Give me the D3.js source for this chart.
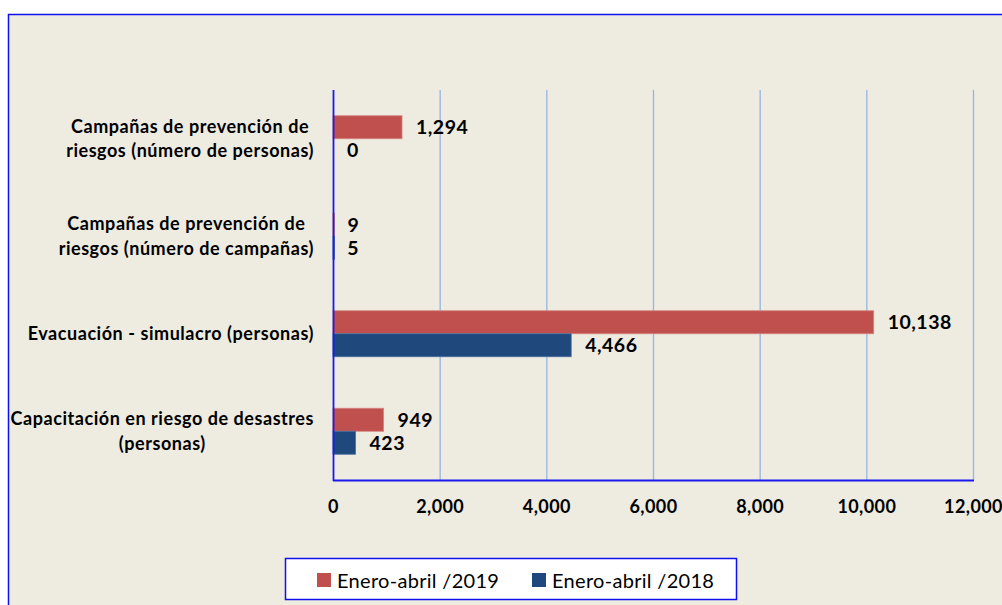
<!DOCTYPE html>
<html>
<head>
<meta charset="utf-8">
<script src="https://cdn.jsdelivr.net/npm/d3@7"></script>
<style>
    body { margin: 0; background: #ffffff; }
    svg { display: block; }
    text { font-family: Lato, "Open Sans", sans-serif; fill: #000; }
    .cat { font-size: 18px; font-weight: bold; letter-spacing: 0.55px; }
    .tick_lbl { font-size: 18px; font-weight: bold; letter-spacing: 0.4px; }
    .val { font-size: 19.5px; font-weight: bold; letter-spacing: 0.5px; }
    .legend { font-size: 20px; letter-spacing: 0.3px; }
</style>
</head>
<body>
<div id="Chart_1"></div>
<script>
// categories, top to bottom
let categories = [
    "Campañas de prevención de\nriesgos (número de personas)",
    "Campañas de prevención de\nriesgos (número de campañas)",
    "Evacuación - simulacro (personas)",
    "Capacitación en riesgo de desastres\n(personas)"
];
let series = ["Enero-abril /2019", "Enero-abril /2018"];
let values2019 = [1294, 9, 10138, 949];
let values2018 = [0, 5, 4466, 423];
let xTicks = [0, 2000, 4000, 6000, 8000, 10000, 12000];
let colors = ["#c0504d", "#1f497d"];
let strokes = ["#d6837f", "#4a6f9f"];

let width = 1002, height = 605;

let svg = d3.select("#Chart_1")
    .append("svg")
    .attr("width", width)
    .attr("height", height);

// chart area background + border (runs off the right and bottom)
svg.append("rect")
    .attr("x", 8.5)
    .attr("y", 14.5)
    .attr("width", 1010)
    .attr("height", 610)
    .attr("fill", "#eeebe1")
    .attr("stroke", "#1010ee")
    .attr("stroke-width", 1.5);

let plot = {left: 333, right: 973, top: 90, bottom: 480};

let xScale = d3.scaleLinear()
    .domain([0, 12000])
    .range([plot.left, plot.right]);

let yScale = d3.scaleBand()
    .domain(categories)
    .range([plot.top, plot.bottom]);

let ySub = d3.scaleBand()
    .domain(series)
    .range([0, yScale.bandwidth()])
    .paddingOuter(1.12);

// gridlines
svg.append("g")
    .selectAll("line")
    .data(xTicks.slice(1))
    .enter()
    .append("line")
    .attr("x1", d => xScale(d) + 0.5)
    .attr("x2", d => xScale(d) + 0.5)
    .attr("y1", plot.top)
    .attr("y2", plot.bottom)
    .attr("stroke", "#95b6e3")
    .attr("stroke-width", 1.3);

// bars
let data = categories.map((c, i) => [
    {cat: c, s: 0, v: values2019[i]},
    {cat: c, s: 1, v: values2018[i]}
]).flat();

svg.append("g")
    .selectAll("rect")
    .data(data)
    .enter()
    .append("rect")
    .attr("x", xScale(0))
    .attr("y", d => yScale(d.cat) + ySub(series[d.s]))
    .attr("width", d => Math.max(xScale(d.v) - xScale(0), d.v > 0 ? 1.5 : 0))
    .attr("height", ySub.bandwidth())
    .attr("fill", d => colors[d.s])
    .attr("stroke", d => d.v > 0 ? strokes[d.s] : "none")
    .attr("stroke-width", 0.8);

// value labels
svg.append("g")
    .selectAll("text")
    .data(data)
    .enter()
    .append("text")
    .attr("class", "val")
    .attr("x", d => xScale(d.v) + 14)
    .attr("y", d => yScale(d.cat) + ySub(series[d.s]) + ySub.bandwidth() / 2)
    .attr("dy", "0.36em")
    .text(d => d3.format(",")(d.v));

// axes lines
svg.append("line")
    .attr("x1", plot.left + 0.5).attr("x2", plot.left + 0.5)
    .attr("y1", plot.top).attr("y2", plot.bottom + 1)
    .attr("stroke", "#1a1aee").attr("stroke-width", 1.8);

svg.append("line")
    .attr("x1", plot.left).attr("x2", plot.right + 1)
    .attr("y1", plot.bottom + 0.5).attr("y2", plot.bottom + 0.5)
    .attr("stroke", "#1a1aee").attr("stroke-width", 1.8);

// x tick labels
let xAxis = d3.axisBottom(xScale)
    .tickValues(xTicks)
    .tickFormat(d3.format(","))
    .tickSize(0)
    .tickPadding(0);

let gx = svg.append("g")
    .attr("transform", "translate(0," + 513 + ")")
    .call(xAxis);
gx.select(".domain").remove();
gx.selectAll("text")
    .attr("class", "tick_lbl")
    .attr("y", 0)
    .attr("dy", "0");
gx.attr("font-family", null).attr("font-size", null);

// category labels, centred block whose widest line ends at x=314
categories.forEach(c => {
    let lines = c.split("\n");
    let cy = yScale(c) + yScale.bandwidth() / 2;
    let t = svg.append("text")
        .attr("class", "cat")
        .attr("text-anchor", "middle");
    lines.forEach((l, k) => {
        t.append("tspan")
            .attr("y", cy + (k - (lines.length - 1) / 2) * 24.5)
            .attr("dy", "0.36em")
            .text(l);
    });
    let w = d3.max(t.selectAll("tspan").nodes(), n => n.getComputedTextLength());
    t.selectAll("tspan").attr("x", 314 - w / 2);
});

// legend
svg.append("rect")
    .attr("x", 285.5)
    .attr("y", 558.5)
    .attr("width", 451)
    .attr("height", 41)
    .attr("fill", "#ffffff")
    .attr("stroke", "#1010ee")
    .attr("stroke-width", 1.5);

let legendX = [317, 532];
series.forEach((s, i) => {
    svg.append("rect")
        .attr("x", legendX[i])
        .attr("y", 573)
        .attr("width", 14)
        .attr("height", 14)
        .attr("fill", colors[i]);
    svg.append("text")
        .attr("class", "legend")
        .attr("x", legendX[i] + 20)
        .attr("y", 581)
        .attr("dy", "0.36em")
        .text(s);
});
</script>
</body>
</html>
